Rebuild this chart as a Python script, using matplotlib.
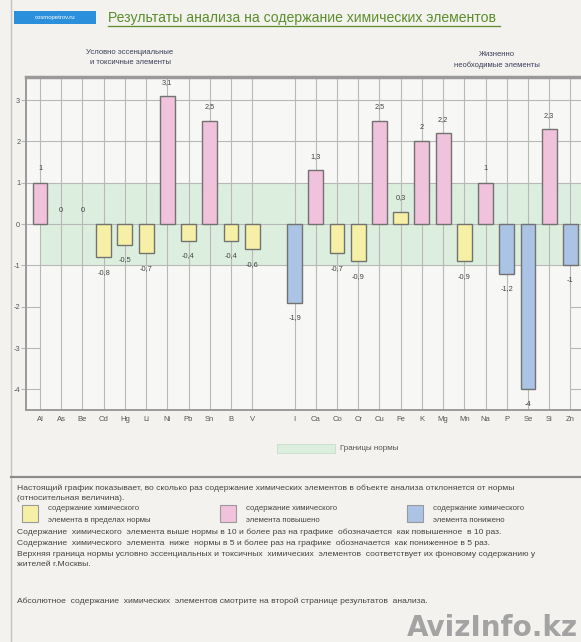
import matplotlib
matplotlib.use('Agg')
import matplotlib.pyplot as plt
from matplotlib.patches import Rectangle
from matplotlib.lines import Line2D

plt.rcParams['font.family'] = ['Liberation Sans', 'DejaVu Sans']

# данные графика
toxic = ['Al', 'As', 'Be', 'Cd', 'Hg', 'Li', 'Ni', 'Pb', 'Sn', 'B', 'V']
toxic_vals = [1, 0, 0, -0.8, -0.5, -0.7, 3.1, -0.4, 2.5, -0.4, -0.6]
essential = ['I', 'Ca', 'Co', 'Cr', 'Cu', 'Fe', 'K', 'Mg', 'Mn', 'Na', 'P', 'Se', 'Si', 'Zn']
essential_vals = [-1.9, 1.3, -0.7, -0.9, 2.5, 0.3, 2, 2.2, -0.9, 1, -1.2, -4, 2.3, -1]
norm_low, norm_high = -1, 1
yticks = [3, 2, 1, 0, -1, -2, -3, -4]

c_norm = '#f6f0a6'
c_high = '#f0c2db'
c_low = '#abc4e6'
c_band = '#dcefdf'
c_grid = '#b8b8b8'
c_frame = '#9a9a9a'

W, H = 581, 642


def fx(x):
    return x / W


def fy(y):
    return 1 - y / H


fig = plt.figure(figsize=(W / 100, H / 100), dpi=100, facecolor='#f3f2ef')

elements = toxic + essential
values = toxic_vals + essential_vals
pos = list(range(len(toxic))) + list(range(len(toxic) + 1, len(toxic) + 1 + len(essential)))

# граница страницы (под графиком)
fig.add_artist(Line2D([fx(11), fx(11)], [0, 1], color='#c4c4c4', lw=1, zorder=-1))

ax = fig.add_axes([fx(26), fy(410), fx(555), (410 - 77) / H])
ax.set_facecolor('#f7f7f5')
ax.set_xlim(-0.66, 25.5)
ax.set_ylim(-4.5, 3.56)

# зона нормы
ax.fill_between([0, 25.5], norm_low, norm_high, color=c_band, zorder=0, linewidth=0)

# сетка
for p in pos:
    ax.axvline(p, color=c_grid, lw=0.8, zorder=1)
for yv in yticks:
    if yv >= -1:
        ax.axhline(yv, color=c_grid, lw=0.8, zorder=1)
    else:
        ax.hlines(yv, -0.66, 0, color=c_grid, lw=0.8, zorder=1)
        ax.hlines(yv, 25, 25.5, color=c_grid, lw=0.8, zorder=1)

colors = []
for v in values:
    if v >= norm_high:
        colors.append(c_high)
    elif v <= norm_low:
        colors.append(c_low)
    else:
        colors.append(c_norm)

lws = [0 if v == 0 else 1.0 for v in values]
ax.bar(pos, values, width=0.7, color=colors, edgecolor='#727272', linewidth=lws, zorder=3)

for p, v in zip(pos, values):
    lbl = ('%g' % v).replace('.', ',')
    off = 10 if v >= 0 else -11
    ax.annotate(lbl, (p, v), xytext=(0, off), textcoords='offset points', annotation_clip=False,
                ha='center', va='center', fontsize=5.3, color='#444444', zorder=5)

ax.set_xticks(pos)
ax.set_xticklabels(elements, fontsize=5.5, color='#555555')
ax.tick_params(axis='x', length=0, pad=4)
ax.set_yticks(yticks)
ax.set_yticklabels([str(t) for t in yticks], fontsize=5.3, color='#555555')
ax.tick_params(axis='y', length=3.5, width=0.8, color=c_grid, pad=0.6)

for s in ['left', 'bottom', 'top']:
    ax.spines[s].set_color(c_frame)
    ax.spines[s].set_linewidth(1.4)
ax.spines['top'].set_linewidth(2.5)
ax.spines['right'].set_visible(False)

# заголовок
fig.add_artist(Rectangle((fx(14), fy(24)), fx(82), 13 / H, transform=fig.transFigure,
                         facecolor='#2b8fdc', edgecolor='none'))
fig.text(fx(55), fy(17.5), 'cosmopetrov.ru', fontsize=4.3, color='white', ha='center', va='center')
fig.text(fx(108), fy(18), 'Результаты анализа на содержание химических элементов',
         fontsize=10.1, color='#5b8d2b', ha='left', va='center')
fig.add_artist(Line2D([fx(108), fx(500)], [fy(25.5), fy(25.5)], color='#5b8d2b', lw=0.9))

fig.text(fx(130), fy(53), 'Условно эссенциальные', fontsize=5.5, color='#3a3f5a', ha='center', va='center')
fig.text(fx(130), fy(63), 'и токсичные элементы', fontsize=5.5, color='#3a3f5a', ha='center', va='center')
fig.text(fx(497), fy(55), 'Жизненно', fontsize=5.5, color='#3a3f5a', ha='center', va='center')
fig.text(fx(497), fy(65), 'необходимые элементы', fontsize=5.5, color='#3a3f5a', ha='center', va='center')

# разделитель
fig.add_artist(Line2D([fx(11), 1], [fy(477), fy(477)], color='#8c8c8c', lw=1.6))

# легенда "Границы нормы"
fig.add_artist(Rectangle((fx(277), fy(453)), fx(58), 9 / H, transform=fig.transFigure,
                         facecolor=c_band, edgecolor='#c8dccb', lw=0.6))
fig.text(fx(340), fy(449), 'Границы нормы', fontsize=5.8, color='#555555', ha='left', va='center')

tc = '#444444'
fs = 6.1
fig.text(fx(17), fy(488), 'Настоящий график показывает, во сколько раз содержание химических элементов '
         'в объекте анализа отклоняется от нормы', fontsize=fs, color=tc, va='center')
fig.text(fx(17), fy(499), '(относительная величина).', fontsize=fs, color=tc, va='center')

legend_items = [
    (22, c_norm, 'содержание химического', 'элемента в пределах нормы'),
    (220, c_high, 'содержание химического', 'элемента повышено'),
    (407, c_low, 'содержание химического', 'элемента понижено'),
]
for x0, col, l1, l2 in legend_items:
    fig.add_artist(Rectangle((fx(x0), fy(522)), fx(16), 17 / H, transform=fig.transFigure,
                             facecolor=col, edgecolor='#9a9a9a', lw=0.8))
    fig.text(fx(x0 + 26), fy(509), l1, fontsize=5.6, color=tc, va='center')
    fig.text(fx(x0 + 26), fy(520), l2, fontsize=5.6, color=tc, va='center')

notes = [
    (532, 'Содержание  химического  элемента выше нормы в 10 и более раз на графике  обозначается  как повышенное  в 10 раз.'),
    (543, 'Содержание  химического  элемента  ниже  нормы в 5 и более раз на графике  обозначается  как пониженное в 5 раз.'),
    (554, 'Верхняя граница нормы условно эссенциальных и токсичных  химических  элементов  соответствует их фоновому содержанию у'),
    (565, 'жителей г.Москвы.'),
    (601, 'Абсолютное  содержание  химических  элементов смотрите на второй странице результатов  анализа.'),
]
for yy, t in notes:
    fig.text(fx(17), fy(yy), t, fontsize=fs, color=tc, va='center')

fig.text(fx(578), fy(628), 'AvizInfo.kz', fontsize=20, color='#a3a3a3', ha='right', va='center',
         family='DejaVu Sans', weight='bold')

fig.savefig('out.png', dpi=100, facecolor=fig.get_facecolor())
